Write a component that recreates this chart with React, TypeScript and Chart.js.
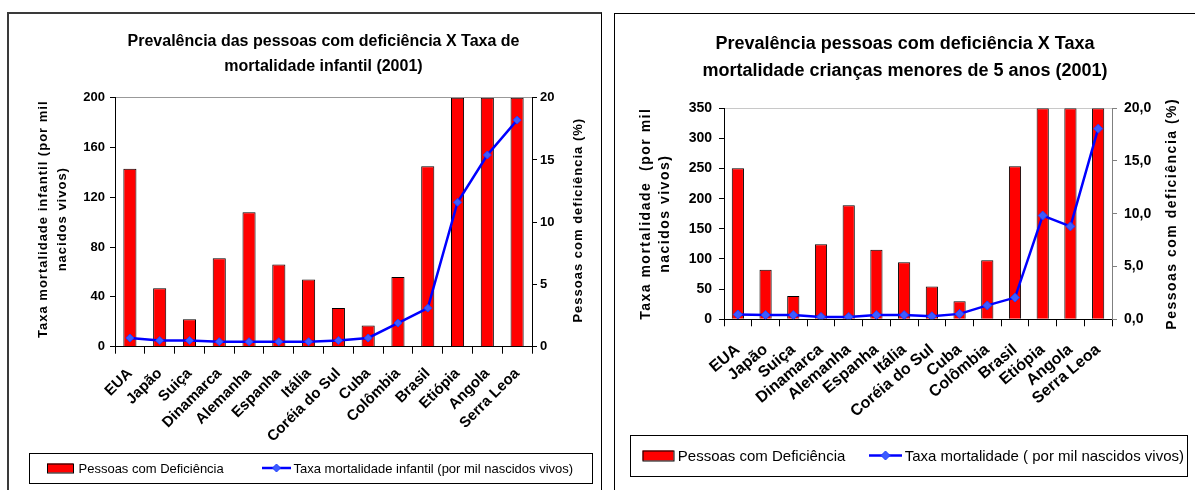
import React, { useEffect, useRef } from 'react';
import { Chart, registerables } from 'chart.js';

Chart.register(...registerables);

const FONT = "'Liberation Sans', Arial, Helvetica, sans-serif";

// ---------- data ----------
const categories = ['EUA', 'Japão', 'Suiça', 'Dinamarca', 'Alemanha', 'Espanha', 'Itália', 'Coréia do Sul', 'Cuba', 'Colômbia', 'Brasil', 'Etiópia', 'Angola', 'Serra Leoa'];
const disabilityPct = [14.3, 4.7, 2.2, 7.1, 10.8, 6.6, 5.4, 3.1, 1.7, 5.6, 14.5, 20, 20, 20];
const infantMortality = [7, 5, 5, 4, 4, 4, 4, 5, 7, 19, 31, 116, 154, 182];
const under5Mortality = [8, 7, 7, 4, 4, 7, 7, 5, 9, 23, 36, 172, 154, 316];

const leftTicks1 = [0, 40, 80, 120, 160, 200];
const leftTicks2 = [0, 50, 100, 150, 200, 250, 300, 350];
const rightTicks = [0, 5, 10, 15, 20];

const title1 = ['Prevalência das pessoas com deficiência X Taxa de', 'mortalidade infantil (2001)'];
const title2 = ['Prevalência pessoas com deficiência X Taxa', 'mortalidade crianças menores de 5 anos (2001)'];
const leftAxisTitle1 = ['Taxa mortalidade infantil (por mil', 'nacidos vivos)'];
const leftAxisTitle2 = ['Taxa mortalidade  (por mil', 'nacidos vivos)'];
const rightAxisTitle = 'Pessoas com deficiência (%)';
const barLabel = 'Pessoas com Deficiência';
const lineLabel1 = 'Taxa mortalidade infantil (por mil nascidos vivos)';
const lineLabel2 = 'Taxa mortalidade ( por mil nascidos vivos)';

// ---------- decoration plugin: axis titles + boxed legend ----------
const decorPlugin = {
  id: 'decor',
  afterDraw(chart: any, _args: any, o: any) {
    const ctx = chart.ctx as CanvasRenderingContext2D;
    const { top, bottom } = chart.chartArea;
    const cy = (top + bottom) / 2;
    ctx.save();
    ctx.fillStyle = '#000';
    ctx.font = `bold ${o.axisFont}px ${FONT}`;
    (ctx as any).letterSpacing = o.axisSpacing + 'px';
    ctx.textAlign = 'center';
    ctx.textBaseline = 'middle';
    o.leftTitle.forEach((line: string, i: number) => {
      ctx.save();
      ctx.translate(o.leftX[i], cy + o.leftDy);
      ctx.rotate(-Math.PI / 2);
      ctx.fillText(line, 0, 0);
      ctx.restore();
    });
    ctx.save();
    ctx.translate(o.rightX, cy + o.rightDy);
    ctx.rotate(-Math.PI / 2);
    ctx.fillText(o.rightTitle, 0, 0);
    ctx.restore();

    // legend
    const L = o.legend;
    (ctx as any).letterSpacing = '0px';
    ctx.fillStyle = '#fff';
    ctx.fillRect(L.x, L.y, L.w, L.h);
    ctx.strokeStyle = '#000';
    ctx.lineWidth = 1;
    ctx.strokeRect(L.x + 0.5, L.y + 0.5, L.w, L.h);
    const ly = L.y + L.h / 2;
    const bar = chart.data.datasets[1];
    const line = chart.data.datasets[0];
    ctx.fillStyle = bar.backgroundColor;
    ctx.fillRect(L.sx, ly - L.sh / 2, L.sw, L.sh);
    ctx.strokeStyle = '#000';
    ctx.strokeRect(L.sx + 0.5, ly - L.sh / 2 + 0.5, L.sw, L.sh);
    ctx.font = `${L.font}px ${FONT}`;
    ctx.fillStyle = '#000';
    ctx.textAlign = 'left';
    ctx.textBaseline = 'middle';
    ctx.fillText(bar.label, L.t1x, ly + 1);
    ctx.strokeStyle = line.borderColor;
    ctx.lineWidth = line.borderWidth;
    ctx.beginPath();
    ctx.moveTo(L.lx0, ly);
    ctx.lineTo(L.lx1, ly);
    ctx.stroke();
    const r = line.pointRadius;
    const mx = (L.lx0 + L.lx1) / 2;
    ctx.beginPath();
    ctx.moveTo(mx, ly - r);
    ctx.lineTo(mx + r, ly);
    ctx.lineTo(mx, ly + r);
    ctx.lineTo(mx - r, ly);
    ctx.closePath();
    ctx.fillStyle = line.pointBackgroundColor;
    ctx.fill();
    ctx.lineWidth = 1;
    ctx.strokeStyle = line.pointBorderColor;
    ctx.stroke();
    ctx.fillStyle = '#000';
    ctx.fillText(line.label, L.t2x, ly + 1);
    ctx.restore();
  },
};

function buildConfig(p: any): any {
  const bold = (size: number) => ({ family: FONT, size, weight: 'bold' as const });
  return {
    type: 'bar',
    data: {
      labels: categories,
      datasets: [
        {
          type: 'line',
          label: p.lineLabel,
          data: p.lineData,
          yAxisID: 'y',
          borderColor: '#0000ff',
          borderWidth: 2.5,
          pointStyle: 'rectRot',
          pointRadius: p.pointRadius,
          pointBackgroundColor: '#3d5cff',
          pointBorderColor: '#2040ff',
          pointBorderWidth: 1,
          tension: 0,
          order: 0,
        },
        {
          type: 'bar',
          label: barLabel,
          data: disabilityPct,
          yAxisID: 'y1',
          backgroundColor: '#ff0000',
          borderColor: '#000000',
          borderWidth: 1,
          barPercentage: 0.44,
          categoryPercentage: 1,
          order: 1,
        },
      ],
    },
    options: {
      responsive: false,
      maintainAspectRatio: false,
      animation: false,
      events: [],
      layout: { padding: { left: 0, right: 0, top: 0, bottom: p.padBottom } },
      plugins: {
        legend: { display: false },
        tooltip: { enabled: false },
        title: {
          display: true,
          text: p.title,
          fullSize: p.titleFull,
          color: '#000',
          font: { family: FONT, size: p.titleSize, weight: 'bold', lineHeight: p.titleLH },
          padding: { top: p.titlePadTop, bottom: p.titlePadBottom },
        },
        decor: p.decor,
      },
      scales: {
        x: {
          offset: true,
          grid: { display: true, drawOnChartArea: false, offset: true, tickLength: 7, tickColor: '#000', color: '#000' },
          border: { display: true, color: '#000', width: 1 },
          ticks: { color: '#000', font: bold(p.xFont), minRotation: p.xRot, maxRotation: p.xRot, autoSkip: false, padding: p.xPad },
          afterFit: (s: any) => { s.height = p.xHeight; },
        },
        y: {
          position: 'left',
          min: 0,
          max: p.leftTicks[p.leftTicks.length - 1],
          afterBuildTicks: (s: any) => { s.ticks = p.leftTicks.map((v: number) => ({ value: v })); },
          grid: {
            color: (c: any) => (c.tick && c.tick.value === p.leftTicks[p.leftTicks.length - 1] ? p.topGrid : 'rgba(0,0,0,0)'),
            tickColor: '#000',
            tickLength: 5,
          },
          border: { display: true, color: '#000', width: 1 },
          ticks: { color: '#000', font: bold(p.yFont), padding: p.yPad },
          afterFit: (s: any) => { s.width = p.leftWidth; },
        },
        y1: {
          position: 'right',
          min: 0,
          max: rightTicks[rightTicks.length - 1],
          afterBuildTicks: (s: any) => { s.ticks = rightTicks.map((v) => ({ value: v })); },
          grid: { drawOnChartArea: false, tickColor: p.rightColor, tickLength: 5 },
          border: { display: true, color: p.rightColor, width: 1 },
          ticks: { color: '#000', font: bold(p.yFont), padding: p.y1Pad, callback: (v: any) => p.rightFmt(v) },
          afterFit: (s: any) => { s.width = p.rightWidth; },
        },
      },
    },
    plugins: [decorPlugin],
  };
}

const cfg1 = {
  lineLabel: lineLabel1,
  lineData: infantMortality,
  pointRadius: 4,
  padBottom: 43.3,
  title: title1,
  titleFull: false,
  titleSize: 16,
  titleLH: 1.6,
  titlePadTop: 14.5,
  titlePadBottom: 18,
  xFont: 15,
  xRot: 45,
  xPad: 11,
  xHeight: 100,
  leftTicks: leftTicks1,
  topGrid: '#999999',
  yFont: 13,
  yPad: 5,
  leftWidth: 106,
  rightColor: '#000',
  y1Pad: 3,
  rightWidth: 69,
  rightFmt: (v: number) => String(v),
  decor: {
    axisFont: 13,
    axisSpacing: 1,
    leftTitle: leftAxisTitle1,
    leftX: [34, 53],
    leftDy: -3,
    rightTitle: rightAxisTitle,
    rightX: 569,
    rightDy: -2,
    legend: { x: 20, y: 439, w: 563, h: 30, sx: 38, sw: 26, sh: 9, font: 13, t1x: 69.5, lx0: 253, lx1: 282, t2x: 284.5 },
  },
};

const cfg2 = {
  lineLabel: lineLabel2,
  lineData: under5Mortality,
  pointRadius: 4.5,
  padBottom: 70.7,
  title: title2,
  titleFull: true,
  titleSize: 18,
  titleLH: 1.48,
  titlePadTop: 17,
  titlePadBottom: 23.9,
  xFont: 16,
  xRot: 40,
  xPad: 14,
  xHeight: 100,
  leftTicks: leftTicks2,
  topGrid: '#c8c8c8',
  yFont: 14,
  yPad: 7,
  leftWidth: 109,
  rightColor: '#808080',
  y1Pad: 7,
  rightWidth: 83,
  rightFmt: (v: number) => v.toFixed(1).replace('.', ','),
  decor: {
    axisFont: 14,
    axisSpacing: 1.5,
    leftTitle: leftAxisTitle2,
    leftX: [31, 50],
    leftDy: 0,
    rightTitle: rightAxisTitle,
    rightX: 557,
    rightDy: 0,
    legend: { x: 15, y: 421, w: 557, h: 41, sx: 27.5, sw: 31, sh: 10, font: 15, t1x: 62.8, lx0: 254, lx1: 287, t2x: 289.7 },
  },
};

function ChartCanvas({ cfg, width, height }: { cfg: any; width: number; height: number }) {
  const ref = useRef<HTMLCanvasElement | null>(null);
  useEffect(() => {
    if (!ref.current) return;
    const chart = new Chart(ref.current, buildConfig(cfg));
    return () => chart.destroy();
  }, [cfg]);
  return <canvas ref={ref} width={width} height={height} style={{ display: 'block', width, height }} />;
}

export default function App() {
  return (
    <div style={{ position: 'absolute', left: 0, top: 0, width: 1195, height: 490, overflow: 'hidden', background: '#fff' }}>
      <div
        style={{
          position: 'absolute',
          left: 7,
          top: 12,
          width: 595,
          height: 520,
          boxSizing: 'border-box',
          borderTop: '2px solid #3a3a3a',
          borderLeft: '2px solid #3a3a3a',
          borderRight: '1px solid #000',
        }}
      >
        <ChartCanvas cfg={cfg1} width={592} height={476} />
      </div>
      <div
        style={{
          position: 'absolute',
          left: 614,
          top: 13,
          width: 600,
          height: 520,
          boxSizing: 'border-box',
          border: '1px solid #000',
        }}
      >
        <ChartCanvas cfg={cfg2} width={580} height={476} />
      </div>
    </div>
  );
}
